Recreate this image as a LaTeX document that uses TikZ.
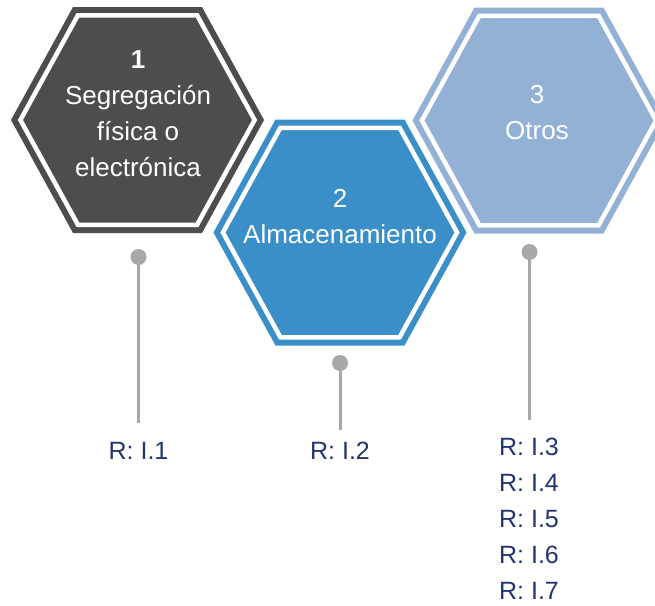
\documentclass[tikz,border=0pt]{standalone}
\usepackage{fontspec}
\setmainfont{Liberation Sans}

\definecolor{hexdark}{HTML}{4D4D4D}
\definecolor{hexblue}{HTML}{3A8FC8}
\definecolor{hexpale}{HTML}{93B1D4}
\definecolor{refnavy}{HTML}{22346E}
\definecolor{pingray}{HTML}{A8A8A8}

% struts that make every text row a box centred on its capitals
\newcommand\hexrow{\rule[-8.7pt]{0pt}{36pt}}
\newcommand\refrow{\rule[-9.25pt]{0pt}{36.5pt}}
\newcommand\listrow{\rule[-8.75pt]{0pt}{36pt}}
\newcommand\listlast{\rule{0pt}{27.25pt}}

\tikzset{
  hexband/.style={fill=#1, draw=#1, line width=6pt, double=white,
    double distance=4.5pt, line join=miter},
  hextext/.style={text=white, align=center, inner sep=0pt,
    font=\fontsize{26pt}{36pt}\selectfont},
  reftext/.style={text=refnavy, align=center, inner sep=0pt,
    font=\fontsize{25pt}{36.5pt}\selectfont},
  reflist/.style={reftext, font=\fontsize{25pt}{36pt}\selectfont},
  pindot/.style={circle, fill=pingray, inner sep=0pt, minimum size=16pt},
  pinline/.style={draw=pingray, line width=3pt},
}

% hexagon outline, inset so the outer edge of the band lies on the shape
\newcommand\hexpath{(-117.1,0) -- (-59.6,-104.75) -- (59.6,-104.75) -- (117.1,0)
  -- (59.6,104.75) -- (-59.6,104.75) -- cycle}

\begin{document}
\begin{tikzpicture}[x=1pt, y=-1pt]
  \useasboundingbox (0,0) rectangle (655,605);

  % hexagons
  \path[hexband=hexdark, shift={(137.5,120)}] \hexpath;
  \path[hexband=hexblue, shift={(340,232.5)}] \hexpath;
  \path[hexband=hexpale, shift={(539,120.5)}] \hexpath;

  % hexagon captions
  \node[hextext] (t1) at (138,112.75)
    {\hexrow\textbf{1}\\\hexrow Segregación\\\hexrow física o\\\hexrow electrónica};
  \node[hextext] (t2) at (340,215.75) {\hexrow 2\\\hexrow Almacenamiento};
  \node[hextext] (t3) at (537,112.5) {\hexrow 3\\\hexrow Otros};

  % pins
  \node[pindot] (p1) at (138.5,257) {};
  \node[pindot] (p2) at (340,363) {};
  \node[pindot] (p3) at (529.5,252) {};

  % references
  \node[reftext] (r1) at (138.5,450.5) {\refrow R: I.1};
  \node[reftext] (r2) at (340,450.5) {\refrow R: I.2};
  \node[reflist, anchor=north] (r3) at (529,427.75)
    {\listrow R: I.3\\\listrow R: I.4\\\listrow R: I.5\\\listrow R: I.6\\\listlast R: I.7};

  % pin stems
  \draw[pinline, shorten >=9.25pt] (p1) -- (r1.north);
  \draw[pinline, shorten >=2.25pt] (p2) -- (r2.north);
  \draw[pinline, shorten >=7.75pt] (p3) -- (r3.north -| p3);
\end{tikzpicture}
\end{document}
